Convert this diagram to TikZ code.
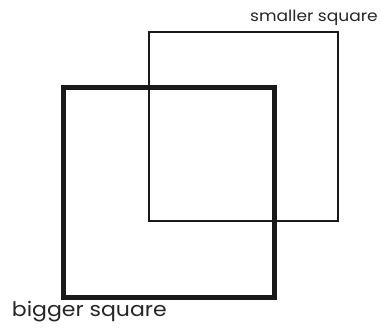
\documentclass[tikz,border=0pt]{standalone}
\usepackage{fontspec}
\setmainfont{Poppins}[FakeStretch=1.1]
\begin{document}
\begin{tikzpicture}[x=1pt,y=1pt,
  bigsq/.style={draw=black!90, line width=5pt},
  smallsq/.style={draw=black!90, line width=2pt},
  lbl/.style={inner sep=0pt, text=black!85}]
\useasboundingbox (0,0) rectangle (381,330);
\node[smallsq, minimum width=189.5pt, minimum height=189pt, inner sep=0pt, anchor=north west] (small) at (147.5,298.7) {};
\node[bigsq, minimum width=210.5pt, minimum height=210pt, inner sep=0pt, anchor=north west] (big) at (61.2,244.5) {};
\node[lbl, anchor=base east, font=\fontsize{15.5}{17}\selectfont] (smalllbl) at (378,308.3) {smaller square};
\node[lbl, anchor=base west, font=\fontsize{20}{22}\selectfont] (biglbl) at (11.7,13.3) {bigger square};
\end{tikzpicture}
\end{document}
